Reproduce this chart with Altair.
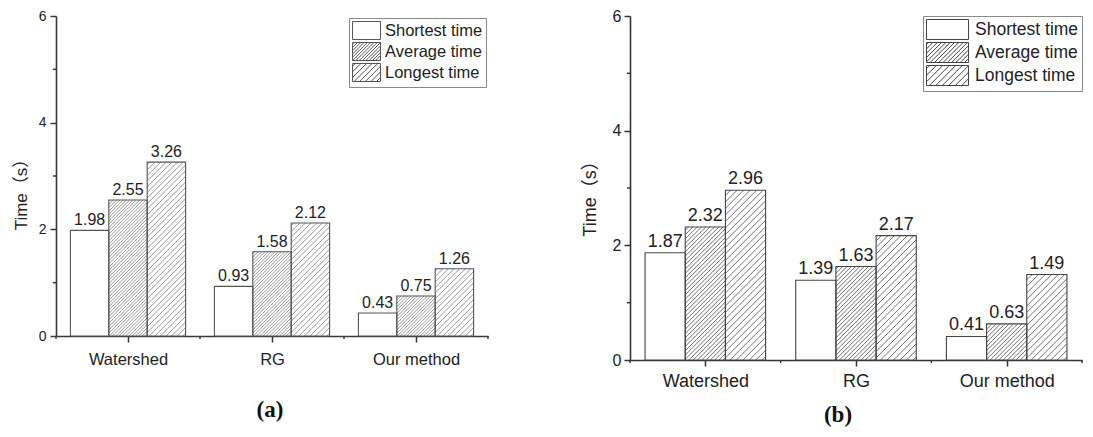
import json
import altair as alt
import pandas as pd

# ---------------- data ----------------
categories = ["Watershed", "RG", "Our method"]
series = ["Shortest time", "Average time", "Longest time"]

a_shortest = [1.98, 0.93, 0.43]
a_average = [2.55, 1.58, 0.75]
a_longest = [3.26, 2.12, 1.26]

b_shortest = [1.87, 1.39, 0.41]
b_average = [2.32, 1.63, 0.63]
b_longest = [2.96, 2.17, 1.49]

y_major = [0, 2, 4, 6]
y_minor = [1, 3, 5]
y_max = 6
y_title = "Time（s）"
caption_a = "(a)"
caption_b = "(b)"

SANS = "Liberation Sans, Arial, Noto Sans CJK SC"
SERIF = "Liberation Serif, DejaVu Serif"


def symbol_path(half_w, spacing):
    """Legend swatch: rectangle in [-half_w, half_w] x [-1, 1] plus '/' hatch."""
    parts = [f"M{-half_w:.3f},-1H{half_w:.3f}V1H{-half_w:.3f}Z"]
    if spacing:
        c = -half_w - 1 + spacing / 2
        while c < half_w + 1:
            xl = max(-half_w, c - 1)
            xh = min(half_w, c + 1)
            if xh - xl > 0.05:
                parts.append(f"M{xl:.3f},{c - xl:.3f}L{xh:.3f},{c - xh:.3f}")
            c += spacing
    return "".join(parts)


def panel(values, P):
    nb = len(series)
    n = len(categories)
    bw = P["group"] / nb
    rows = []
    for i, cat in enumerate(categories):
        for j, ser in enumerate(series):
            x0 = i + (1 - P["group"]) / 2 + j * bw
            rows.append(dict(category=cat, series=ser, value=values[j][i],
                             x0=x0, x1=x0 + bw, xc=x0 + bw / 2))
    bars = pd.DataFrame(rows)

    # hatch segments (45 degrees in screen space), clipped to each bar
    pxX = P["width"] / n
    pxY = P["height"] / y_max
    hrows = []
    for r in rows:
        d = P["hatch"][r["series"]]
        if not d:
            continue
        W = (r["x1"] - r["x0"]) * pxX
        H = r["value"] * pxY
        c = -W + d / 2
        while c < H:
            u0 = max(0.0, -c)
            u1 = min(W, H - c)
            if u1 - u0 > 0.3:
                hrows.append(dict(series=r["series"],
                                  hx=r["x0"] + u0 / pxX, hx2=r["x0"] + u1 / pxX,
                                  hy=(u0 + c) / pxY, hy2=(u1 + c) / pxY))
            c += d
    hatch = pd.DataFrame(hrows)

    xscale = alt.Scale(domain=[0, n], nice=False, zero=False)
    yscale = alt.Scale(domain=[0, y_max], nice=False)
    label_expr = f"{json.dumps(categories)}[floor(datum.value)]"

    x_axis = alt.Axis(orient="bottom", values=[i + 0.5 for i in range(n)],
                      labelExpr=label_expr, tickSize=6, tickWidth=1.5,
                      tickColor=P["axis"], domainColor=P["axis"], domainWidth=1.6,
                      labelFont=SANS, labelFontSize=P["cat_fs"], labelColor="#222",
                      labelPadding=P["xlab_pad"], labelAngle=0, title=None, grid=False,
                      labelFlush=False, labelOverlap=False)
    y_axis = alt.Axis(orient="left", values=y_major, format="d", tickSize=6, tickWidth=1.5,
                      tickColor=P["axis"], domainColor=P["axis"], domainWidth=1.6,
                      labelFont=SANS, labelFontSize=P["tick_fs"], labelColor="#222",
                      labelPadding=P["ylab_pad"], grid=False, title=y_title,
                      titleFont=SANS, titleFontSize=P["title_fs"], titleFontWeight="normal",
                      titleColor="#222", titlePadding=P["title_pad"], titleY=P["title_y"])

    base = alt.Chart(bars)
    fill_layer = base.mark_bar(fill="white", strokeWidth=0).encode(
        x=alt.X("x0:Q", scale=xscale, axis=x_axis),
        x2="x1:Q",
        y=alt.Y("value:Q", scale=yscale, axis=y_axis),
        y2=alt.datum(0),
    )
    hatch_layer = alt.Chart(hatch).mark_rule(
        stroke=P["hatch_color"], strokeWidth=P["hatch_w"]).encode(
        x=alt.X("hx:Q", scale=xscale, axis=None),
        x2="hx2:Q",
        y=alt.Y("hy:Q", scale=yscale, axis=None),
        y2="hy2:Q",
    )
    outline_layer = base.mark_bar(fillOpacity=0, stroke=P["outline"],
                                  strokeWidth=P["outline_w"]).encode(
        x=alt.X("x0:Q", scale=xscale, axis=None),
        x2="x1:Q",
        y=alt.Y("value:Q", scale=yscale, axis=None),
        y2=alt.datum(0),
    )
    text_layer = base.mark_text(baseline="bottom", dy=-2, font=SANS,
                                fontSize=P["val_fs"], color="#222").encode(
        x=alt.X("xc:Q", scale=xscale, axis=None),
        y=alt.Y("value:Q", scale=yscale, axis=None),
        text=alt.Text("value:Q", format=".2f"),
    )
    # minor ticks: short outward ticks at the y half-steps and category boundaries
    y_minor_ticks = alt.Chart(pd.DataFrame({"v": y_minor})).mark_rule(
        stroke=P["axis"], strokeWidth=1.5).encode(
        y=alt.Y("v:Q", scale=yscale, axis=None),
        x=alt.value(-3), x2=alt.value(0),
    )
    x_minor_ticks = alt.Chart(pd.DataFrame({"b": list(range(n + 1))})).mark_rule(
        stroke=P["axis"], strokeWidth=1.5).encode(
        x=alt.X("b:Q", scale=xscale, axis=None),
        y=alt.value(P["height"]), y2=alt.value(P["height"] + 3),
    )
    half_w = P["sym_w"] / P["sym_h"]
    unit = P["sym_h"] / 2
    paths = [symbol_path(half_w, (P["hatch"][s] / unit) if P["hatch"][s] else 0)
             for s in series]
    legend_layer = base.mark_point(filled=True, fill="white", stroke=P["outline"],
                                   strokeWidth=1, size=P["sym_h"] ** 2, opacity=1).encode(
        shape=alt.Shape("series:N", scale=alt.Scale(domain=series, range=paths),
                        legend=alt.Legend(title=None, orient="none",
                                          legendX=P["legend_x"], legendY=P["legend_y"],
                                          fillColor="white", strokeColor="#8a8a8a",
                                          padding=P["legend_pad"], labelFont=SANS,
                                          labelFontSize=P["leg_fs"], labelColor="#222",
                                          symbolSize=P["sym_h"] ** 2, symbolStrokeWidth=1,
                                          symbolOffset=P["sym_off"], labelOffset=P["lab_off"],
                                          rowPadding=P["row_pad"], symbolLimit=0)),
    ).transform_filter("false")

    return alt.layer(fill_layer, hatch_layer, outline_layer, text_layer,
                     y_minor_ticks, x_minor_ticks, legend_layer).resolve_axis(
        x="independent", y="independent"
    ).properties(
        width=P["width"], height=P["height"],
        title=alt.TitleParams(text=P["caption"], orient="bottom", anchor="middle",
                              frame="group", font=SERIF, fontSize=23, dx=P["cap_dx"],
                              fontWeight="bold", color="#111", offset=P["cap_off"]),
    )


PA = dict(width=432, height=320, group=0.8, axis="#3a3a3a",
          cat_fs=16.5, tick_fs=14, val_fs=16, leg_fs=16.5, title_fs=17,
          xlab_pad=9, ylab_pad=4, title_pad=8, title_y=174,
          hatch={"Shortest time": 0, "Average time": 3.3, "Longest time": 5.6},
          hatch_color="#8c8c8c", hatch_w=0.9, outline="#555555", outline_w=1.1,
          sym_w=28, sym_h=18, sym_off=5, lab_off=9, row_pad=-2, legend_pad=3,
          legend_x=293, legend_y=2, caption=caption_a, cap_dx=-2, cap_off=31)

PB = dict(width=452, height=344, group=0.8, axis="#333333",
          cat_fs=18, tick_fs=16, val_fs=18, leg_fs=17.5, title_fs=18,
          xlab_pad=6, ylab_pad=3, title_pad=13, title_y=178,
          hatch={"Shortest time": 0, "Average time": 4.3, "Longest time": 6.5},
          hatch_color="#606060", hatch_w=0.9, outline="#444444", outline_w=1.1,
          sym_w=42, sym_h=20, sym_off=11, lab_off=17, row_pad=-2, legend_pad=3,
          legend_x=293, legend_y=0, caption=caption_b, cap_dx=-18, cap_off=14)

left = panel([a_shortest, a_average, a_longest], PA)
right = panel([b_shortest, b_average, b_longest], PB)

chart = alt.hconcat(left, right, spacing=92).resolve_scale(
    x="independent", y="independent", shape="independent"
).resolve_legend(shape="independent").configure_view(stroke=None).properties(
    padding={"left": 4, "top": 0, "right": 0, "bottom": 0}
)

chart.save("out.html", embed_options={"renderer": "svg", "actions": False})
